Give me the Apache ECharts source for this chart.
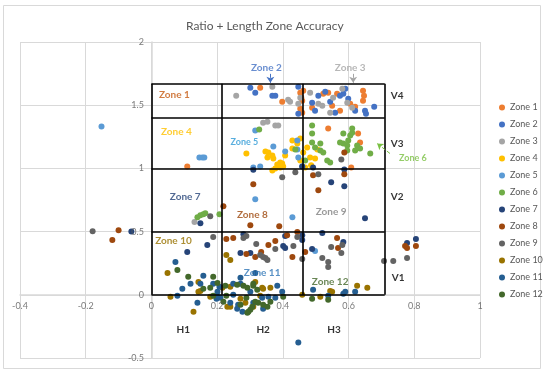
<!DOCTYPE html>
<html><head><meta charset="utf-8">
<script src="https://cdn.jsdelivr.net/npm/echarts@6/dist/echarts.min.js"></script>
<style>html,body{margin:0;padding:0;background:#fff}#c{width:550px;height:375px}</style>
</head><body><div id="c"></div>
<script>
const seriesNames = ['Zone 1','Zone 2','Zone 3','Zone 4','Zone 5','Zone 6','Zone 7','Zone 8','Zone 9','Zone 10','Zone 11','Zone 12'];
const xTickLabels = ['-0.4','-0.2','0','0.2','0.4','0.6','0.8','1'];
const yTickLabels = ['-0.5','0','0.5','1','1.5','2'];
const zoneX = [0, 0.215, 0.46, 0.71];
const zoneY = [0, 0.5, 1, 1.4, 1.67];

const zone1 = [[0.331,1.638],[0.398,1.528],[0.453,1.598],[0.459,1.535],[0.453,1.472],[0.462,1.614],[0.489,1.480],[0.523,1.591],[0.538,1.598],[0.550,1.496],[0.565,1.591],[0.605,1.512],[0.644,1.614],[0.647,1.575],[0.644,1.535],[0.620,1.488],[0.574,1.457],[0.456,1.56],[0.459,1.44],[0.538,1.315],[0.629,1.276],[0.635,1.205],[0.608,1.008],[0.109,1.016]];
const zone2 = [[0.301,1.638],[0.316,1.598],[0.368,1.575],[0.377,1.575],[0.447,1.646],[0.489,1.520],[0.508,1.575],[0.529,1.606],[0.544,1.528],[0.574,1.575],[0.584,1.591],[0.599,1.551],[0.620,1.457],[0.650,1.457],[0.653,1.433],[0.678,1.488],[0.447,1.433],[0.498,1.457],[0.59,1.63],[0.559,1.441]];
const zone3 = [[0.258,1.575],[0.368,1.646],[0.416,1.543],[0.422,1.528],[0.453,1.559],[0.483,1.598],[0.508,1.512],[0.520,1.496],[0.553,1.559],[0.581,1.630],[0.596,1.520],[0.611,1.480],[0.447,1.512],[0.340,1.362],[0.353,1.370],[0.377,1.339],[0.386,1.339],[0.131,0.575],[0.544,1.44]];
const zone4 = [[0.429,1.220],[0.453,1.236],[0.444,1.197],[0.347,1.134],[0.356,1.126],[0.368,1.102],[0.353,1.087],[0.371,1.079],[0.392,1.047],[0.398,1.039],[0.383,1.031],[0.401,1.016],[0.377,1.000],[0.392,1.008],[0.289,1.118],[0.429,1.157],[0.462,1.126],[0.474,1.165],[0.483,1.087],[0.498,1.079],[0.505,1.150],[0.453,1.063],[0.468,1.008],[0.407,1.102],[0.368,0.984],[0.486,1.024]];
const zone5 = [[-0.152,1.331],[0.146,1.087],[0.155,1.087],[0.161,1.087],[0.316,1.299],[0.371,1.173],[0.407,1.134],[0.444,1.150],[0.310,1.008],[0.331,1.016],[0.447,1.087],[0.459,1.016],[0.316,0.756],[0.429,0.614],[0.498,0.346],[0.444,1.22]];
const zone6 = [[0.438,1.150],[0.489,1.339],[0.489,1.276],[0.489,1.205],[0.514,1.197],[0.514,1.142],[0.523,1.126],[0.535,1.063],[0.584,1.276],[0.599,1.220],[0.605,1.260],[0.611,1.283],[0.596,1.181],[0.584,1.197],[0.574,1.205],[0.626,1.181],[0.635,1.157],[0.666,1.118],[0.620,1.142],[0.596,1.142],[0.498,1.165],[0.328,1.307],[0.149,0.630],[0.158,0.638],[0.164,0.646],[0.207,0.638],[0.140,0.614],[0.611,1.315],[0.544,1.047],[0.468,1.063]];
const zone7 = [[-0.061,0.5],[0.459,1.016],[0.587,0.992],[0.547,0.890],[0.587,0.858],[0.492,1.008],[0.650,0.606],[0.149,0.567],[0.280,0.480],[0.271,0.331],[0.301,0.331],[0.407,0.465],[0.401,0.386],[0.407,0.370],[0.459,0.472],[0.459,0.433],[0.489,0.362],[0.520,0.488],[0.584,0.417],[0.778,0.409],[0.805,0.441],[0.170,0.394],[0.109,0.339],[0.31,0.99]];
const zone8 = [[-0.1,0.51],[-0.119,0.433],[0.310,0.874],[0.508,0.827],[0.587,0.953],[0.219,0.701],[0.301,0.551],[0.389,0.543],[0.492,0.945],[0.587,1.126],[0.228,0.441],[0.249,0.449],[0.289,0.323],[0.316,0.299],[0.334,0.339],[0.356,0.394],[0.377,0.425],[0.413,0.472],[0.429,0.299],[0.468,0.339],[0.565,0.449],[0.568,0.370],[0.444,0.496],[0.778,0.370],[0.772,0.386],[0.805,0.386]];
const zone9 = [[-0.179,0.503],[0.578,1.071],[0.398,0.929],[0.438,0.969],[0.508,0.953],[0.179,0.622],[0.188,0.457],[0.280,0.449],[0.289,0.465],[0.319,0.402],[0.377,0.362],[0.432,0.386],[0.444,0.457],[0.459,0.283],[0.520,0.291],[0.538,0.260],[0.538,0.220],[0.547,0.378],[0.581,0.394],[0.578,0.331],[0.708,0.268],[0.736,0.268],[0.778,0.291],[0.331,0.315],[0.340,0.299],[0.347,0.291],[0.353,0.276]];
const zone10 = [[0.049,0.173],[0.228,0.315],[0.240,0.276],[0.143,0.102],[0.149,0.031],[0.216,0.055],[0.240,0.063],[0.337,0.055],[0.362,0.055],[0.544,0.031],[0.626,0.071],[0.657,0.055],[0.058,-0.016],[0.128,-0.134],[0.179,-0.016],[0.231,-0.094],[0.240,-0.094],[0.271,-0.031],[0.286,-0.063],[0.310,-0.094],[0.316,0.102],[0.331,-0.008],[0.340,0.047],[0.459,0],[0.514,-0.016],[0.550,0.024],[0.143,0.024]];
const zone11 = [[0.073,0.260],[0.094,0.047],[0.119,0.087],[0.158,0.150],[0.188,0.087],[0.201,0.024],[0.271,0.134],[0.316,0.173],[0.383,0.071],[0.398,0.024],[0.492,0.039],[0.590,0.024],[0.620,0.024],[0.149,0.087],[0.079,-0.008],[0.140,-0.063],[0.201,-0.016],[0.210,-0.024],[0.198,-0.031],[0.207,0.063],[0.240,-0.063],[0.249,0],[0.261,-0.110],[0.264,-0.079],[0.277,-0.134],[0.301,0.024],[0.310,-0.063],[0.337,-0.024],[0.340,-0.110],[0.356,-0.016],[0.377,-0.024],[0.447,-0.378],[0.538,-0.008],[0.584,0.008],[0.249,0.087],[0.271,0.087]];
const zone12 = [[0.079,0.197],[0.112,0.142],[0.188,0.142],[0.201,0.094],[0.225,0.071],[0.261,0.079],[0.310,0.071],[0.292,0.055],[0.322,0.039],[0.158,0.047],[0.188,-0.008],[0.179,0.055],[0.219,-0.055],[0.228,-0.008],[0.271,-0.079],[0.289,-0.024],[0.295,-0.134],[0.301,-0.118],[0.292,-0.142],[0.307,-0.094],[0.316,-0.055],[0.325,-0.063],[0.340,-0.079],[0.353,-0.094],[0.362,-0.055],[0.401,-0.016],[0.489,-0.031],[0.538,-0.039],[0.310,0.087],[0.280,0.071]];

const zoneData = [zone1,zone2,zone3,zone4,zone5,zone6,zone7,zone8,zone9,zone10,zone11,zone12];
const colors = ['#ED7D31','#4472C4','#A5A5A5','#FFC000','#5B9BD5','#70AD47','#264478','#9E480E','#636363','#997300','#255E91','#43682B'];

// annotation texts: [text, x, y, color, fontSize]
const notes = [
  ['Zone 1',0.070,1.583,'#C55A11',10],['Zone 2',0.350,1.795,'#4472C4',10],['Zone 3',0.605,1.795,'#A5A5A5',10],
  ['Zone 4',0.076,1.291,'#FFC000',10],['Zone 5',0.283,1.205,'#2E9AD6',9],['Zone 6',0.796,1.079,'#7AC143',9],
  ['Zone 7',0.103,0.772,'#264478',10],['Zone 8',0.307,0.630,'#9E480E',10],['Zone 9',0.547,0.654,'#7F7F7F',10],
  ['Zone 10',0.067,0.425,'#997300',10],['Zone 11',0.337,0.173,'#2E75B6',10],['Zone 12',0.544,0.102,'#43682B',10],
  ['V4',0.748,1.575,'#000',10],['V3',0.748,1.197,'#000',10],['V2',0.748,0.772,'#000',10],['V1',0.751,0.134,'#000',10],
  ['H1',0.097,-0.276,'#000',10],['H2',0.340,-0.276,'#000',10],['H3',0.556,-0.276,'#000',10]
];
const arrows = [[0.362,1.748,0.362,1.677,'#4472C4'],[0.614,1.748,0.614,1.677,'#A5A5A5'],[0.726,1.118,0.687,1.197,'#7AC143']];

const FF = 'Lato, "Liberation Sans", sans-serif';
const chart = echarts.init(document.getElementById('c'), null, {renderer:'canvas'});

const gridLines = [];
zoneY.forEach(y => gridLines.push([{coord:[zoneX[0],y]},{coord:[zoneX[zoneX.length-1],y]}]));
zoneX.forEach(x => gridLines.push([{coord:[x,zoneY[0]]},{coord:[x,zoneY[zoneY.length-1]]}]));

const series = seriesNames.map((n,i) => ({
  name:n, type:'scatter', data:zoneData[i], symbolSize:6, z:2+i*0.01,
  itemStyle:{color:colors[i], opacity:1}, emphasis:{disabled:true}
}));
series.push({
  name:'zones', type:'scatter', data:[], silent:true, z:5,
  markLine:{silent:true, symbol:['none','none'], animation:false, label:{show:false},
    lineStyle:{color:'#000', width:1.6, type:'solid'}, emphasis:{disabled:true}, data:gridLines}
});
series.push({
  name:'arrows', type:'scatter', data:[], silent:true, z:5,
  markLine:{silent:true, symbol:['none','arrow'], symbolSize:6, animation:false, label:{show:false},
    emphasis:{disabled:true},
    data:arrows.map(a => [{coord:[a[0],a[1]], lineStyle:{color:a[4],width:1}},{coord:[a[2],a[3]]}])}
});
series.push({
  name:'notes', type:'scatter', symbolSize:1, silent:true, z:6,
  itemStyle:{color:'rgba(0,0,0,0)'},
  data: notes.map(t => ({value:[t[1],t[2]], label:{show:true, position:'inside', formatter:t[0], color:t[3], fontSize:t[4], fontWeight:'bold', fontFamily:FF}}))
});
// tick labels placed next to the axes crossing at zero (Excel style)
series.push({
  name:'xlabels', type:'scatter', symbolSize:1, silent:true, z:6, clip:false,
  itemStyle:{color:'rgba(0,0,0,0)'},
  data: xTickLabels.map(t => ({value:[parseFloat(t),0], label:{show:true, position:'bottom', distance:6, formatter:t, color:'#595959', fontSize:9, fontFamily:FF}}))
});
series.push({
  name:'ylabels', type:'scatter', symbolSize:1, silent:true, z:6, clip:false,
  itemStyle:{color:'rgba(0,0,0,0)'},
  data: yTickLabels.map(t => ({value:[0,parseFloat(t)], label:{show:true, position:'left', distance:7, formatter:t, color:'#595959', fontSize:9, fontFamily:FF}}))
});

chart.setOption({
  animation:false,
  backgroundColor:'#fff',
  title:{text:'Ratio + Length Zone Accuracy', left:181, top:15, textStyle:{color:'#595959', fontSize:12, fontWeight:'normal', fontFamily:FF}},
  graphic:[{type:'rect', shape:{x:3.5,y:5.5,width:537,height:363}, style:{fill:'none', stroke:'#D9D9D9', lineWidth:1}, silent:true}],
  legend:{data:seriesNames, orient:'vertical', left:494, top:97, icon:'circle', itemWidth:6, itemHeight:6, itemGap:6,
    textStyle:{color:'#595959', fontSize:9, lineHeight:11, fontFamily:FF}, selectedMode:false},
  grid:{left:20, right:70, top:42, bottom:17, containLabel:false, outerBoundsMode:'none'},
  xAxis:{type:'value', min:-0.4, max:1, interval:0.2,
    axisLine:{show:true, onZero:true, lineStyle:{color:'#D9D9D9', width:1.5}}, axisTick:{show:false},
    axisLabel:{show:false},
    splitLine:{show:true, lineStyle:{color:'#D9D9D9', width:1}}},
  yAxis:{type:'value', min:-0.5, max:2, interval:0.5,
    axisLine:{show:true, onZero:true, lineStyle:{color:'#D9D9D9', width:1.5}}, axisTick:{show:false},
    axisLabel:{show:false},
    splitLine:{show:true, lineStyle:{color:'#D9D9D9', width:1}}},
  series:series
});
</script></body></html>
